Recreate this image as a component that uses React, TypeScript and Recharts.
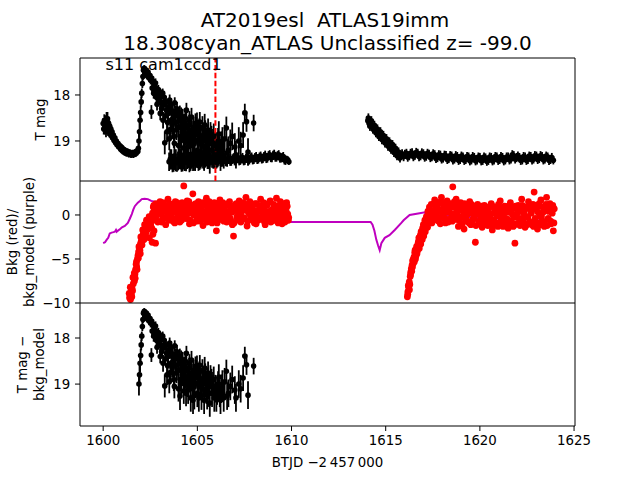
import React from 'react';
import { ComposedChart, Scatter, Line, XAxis, YAxis, ErrorBar, ReferenceLine, ReferenceArea } from 'recharts';

type Pt3 = [number, number, number];
type Pt2 = [number, number];

// ---------- Panel 1: T mag (time, mag, err) ----------
const preRise: Pt3[] = [
  [1600.00, 18.62, 0.12], [1600.03, 18.74, 0.12], [1600.06, 18.56, 0.14], [1600.09, 18.7, 0.16],
  [1600.12, 18.6, 0.16], [1600.15, 18.78, 0.14], [1600.18, 18.55, 0.18], [1600.21, 18.7, 0.16],
  [1600.23, 18.52, 0.15], [1600.26, 18.75, 0.14], [1600.29, 18.62, 0.15], [1600.32, 18.8, 0.12],
  [1600.35, 18.68, 0.12], [1600.38, 18.84, 0.1], [1600.41, 18.74, 0.1], [1600.44, 18.88, 0.1],
  [1600.47, 18.8, 0.09], [1600.50, 18.93, 0.08], [1600.54, 18.87, 0.08], [1600.58, 18.99, 0.08],
  [1600.62, 18.93, 0.07], [1600.66, 19.04, 0.07], [1600.70, 19.0, 0.07], [1600.74, 19.09, 0.07],
  [1600.78, 19.05, 0.07], [1600.83, 19.13, 0.07], [1600.88, 19.1, 0.07], [1600.93, 19.18, 0.07],
  [1600.98, 19.14, 0.07], [1601.03, 19.22, 0.07], [1601.08, 19.18, 0.07], [1601.13, 19.25, 0.07],
  [1601.18, 19.21, 0.07], [1601.24, 19.27, 0.07], [1601.30, 19.23, 0.07], [1601.36, 19.29, 0.07],
  [1601.42, 19.25, 0.07], [1601.48, 19.3, 0.07], [1601.54, 19.26, 0.07], [1601.60, 19.3, 0.07],
  [1601.66, 19.25, 0.07], [1601.72, 19.28, 0.07], [1601.78, 19.22, 0.07], [1601.84, 19.23, 0.08],
  [1601.87, 19.16, 0.1],
];

// flare points (also shown as T mag - bkg_model in the bottom panel)
const flare: Pt3[] = [
  [1601.90, 19.0, 0.25], [1601.93, 18.8, 0.22], [1601.96, 18.55, 0.2], [1601.99, 18.38, 0.15],
  [1602.02, 18.15, 0.12], [1602.05, 17.96, 0.1], [1602.08, 17.75, 0.1], [1602.11, 17.6, 0.08],
  [1602.14, 17.46, 0.07], [1602.18, 17.42, 0.07], [1602.22, 17.5, 0.07], [1602.26, 17.45, 0.07],
  [1602.30, 17.52, 0.08], [1602.34, 17.58, 0.08], [1602.38, 17.5, 0.08], [1602.42, 17.62, 0.08],
  [1602.47, 17.57, 0.08], [1602.52, 17.68, 0.09], [1602.56, 18.37, 0.15], [1602.57, 17.63, 0.09],
  [1602.63, 17.72, 0.1], [1602.68, 17.96, 0.12], [1602.72, 17.8, 0.1], [1602.78, 17.74, 0.1],
  [1602.83, 18.05, 0.12], [1602.88, 17.9, 0.1], [1602.90, 18.04, 0.12], [1603.00, 17.95, 0.1],
  [1603.05, 18.15, 0.12], [1603.10, 18.3, 0.13], [1603.16, 17.96, 0.1], [1603.20, 18.2, 0.12],
  [1603.27, 19.04, 0.25], [1603.30, 18.45, 0.15], [1603.36, 18.33, 0.14], [1603.42, 18.6, 0.2],
  [1603.48, 18.25, 0.12], [1603.53, 18.11, 0.12], [1603.58, 18.75, 0.2], [1603.63, 18.54, 0.18],
  [1603.70, 18.35, 0.15], [1603.75, 18.9, 0.25], [1603.80, 18.17, 0.12], [1603.85, 18.6, 0.2],
  [1603.89, 18.76, 0.22], [1603.95, 18.45, 0.18], [1604.00, 19.1, 0.28], [1604.07, 18.39, 0.16],
  [1604.08, 19.26, 0.3], [1604.12, 18.7, 0.22], [1604.16, 18.98, 0.25], [1604.22, 18.5, 0.2],
  [1604.28, 19.15, 0.28], [1604.33, 18.61, 0.2], [1604.38, 18.85, 0.25], [1604.42, 18.33, 0.16],
  [1604.47, 19.0, 0.28], [1604.51, 19.13, 0.3], [1604.56, 18.65, 0.22], [1604.60, 18.76, 0.22],
  [1604.65, 19.3, 0.3], [1604.69, 18.48, 0.2], [1604.73, 18.9, 0.25], [1604.77, 19.35, 0.3],
  [1604.82, 19.05, 0.28], [1604.86, 18.98, 0.25], [1604.90, 18.62, 0.22], [1604.95, 18.7, 0.22],
  [1605.00, 19.2, 0.3], [1605.05, 18.85, 0.25], [1605.13, 18.59, 0.22], [1605.18, 19.05, 0.3],
  [1605.22, 19.26, 0.3], [1605.30, 18.91, 0.25], [1605.36, 19.35, 0.3], [1605.42, 18.8, 0.25],
  [1605.48, 19.13, 0.3], [1605.57, 18.76, 0.25], [1605.62, 19.2, 0.3], [1605.66, 19.41, 0.3],
  [1605.75, 18.95, 0.28], [1605.83, 19.04, 0.3], [1605.90, 19.3, 0.3], [1606.01, 19.3, 0.3],
  [1606.10, 19.0, 0.28], [1606.19, 19.2, 0.3], [1606.28, 19.09, 0.3], [1606.40, 19.3, 0.3],
  [1606.54, 18.72, 0.25], [1606.58, 19.26, 0.3], [1606.75, 19.05, 0.3], [1606.99, 19.13, 0.3],
  [1607.20, 19.0, 0.3], [1607.43, 18.87, 0.28], [1607.52, 18.39, 0.2], [1607.61, 18.58, 0.22],
  [1607.69, 19.24, 0.3], [1607.99, 18.61, 0.18],
  [1602.60, 17.85, 0.1], [1602.66, 17.7, 0.1], [1602.74, 17.95, 0.12], [1602.80, 17.85, 0.1],
  [1602.86, 18.2, 0.14], [1602.93, 17.88, 0.1], [1602.97, 18.1, 0.12], [1603.03, 18.4, 0.15],
  [1603.08, 18.0, 0.12], [1603.13, 18.25, 0.14], [1603.18, 18.55, 0.18], [1603.24, 18.05, 0.12],
  [1603.33, 18.15, 0.13], [1603.39, 18.8, 0.22], [1603.45, 18.4, 0.16], [1603.51, 18.95, 0.25],
  [1603.56, 18.3, 0.15], [1603.61, 18.2, 0.13], [1603.66, 18.65, 0.2], [1603.72, 18.5, 0.18],
  [1603.78, 19.05, 0.26], [1603.83, 18.4, 0.16], [1603.92, 18.3, 0.15], [1603.98, 18.7, 0.22],
  [1604.03, 18.55, 0.2], [1604.10, 18.9, 0.25], [1604.14, 18.45, 0.18], [1604.19, 18.8, 0.24],
  [1604.25, 18.62, 0.2], [1604.30, 18.95, 0.26], [1604.36, 18.5, 0.2], [1604.40, 19.2, 0.28],
  [1604.45, 18.7, 0.22], [1604.53, 18.9, 0.25], [1604.58, 18.55, 0.2], [1604.63, 19.05, 0.28],
  [1604.71, 18.8, 0.24], [1604.75, 19.1, 0.28], [1604.80, 18.7, 0.22], [1604.84, 19.25, 0.3],
  [1604.92, 18.85, 0.25], [1604.98, 18.6, 0.22], [1605.03, 19.0, 0.28], [1605.08, 19.3, 0.3],
  [1605.10, 18.75, 0.24], [1605.16, 18.9, 0.26], [1605.25, 19.1, 0.28], [1605.27, 18.7, 0.24],
  [1605.33, 19.0, 0.28], [1605.39, 18.65, 0.24], [1605.45, 18.95, 0.28], [1605.52, 19.25, 0.3],
  [1605.55, 18.9, 0.26], [1605.60, 19.05, 0.28], [1605.70, 18.85, 0.26], [1605.78, 19.2, 0.3],
  [1605.87, 18.9, 0.28], [1605.95, 19.1, 0.3], [1606.05, 19.15, 0.3], [1606.14, 18.85, 0.28],
  [1606.23, 19.35, 0.3], [1606.33, 19.0, 0.3], [1606.45, 18.95, 0.3], [1606.65, 19.2, 0.3],
  [1606.85, 18.9, 0.3], [1607.05, 19.3, 0.3], [1607.30, 19.1, 0.3],
];

const baseline1: Pt3[] = [
  [1603.50, 19.45, 0.2], [1603.62, 19.40, 0.22], [1603.74, 19.47, 0.2], [1603.86, 19.42, 0.24],
  [1603.98, 19.44, 0.2], [1604.10, 19.40, 0.22], [1604.22, 19.46, 0.2], [1604.34, 19.43, 0.22],
  [1604.46, 19.41, 0.2], [1604.58, 19.46, 0.22], [1604.70, 19.42, 0.18], [1604.82, 19.44, 0.2],
  [1604.94, 19.40, 0.18], [1605.06, 19.45, 0.2], [1605.18, 19.42, 0.18], [1605.30, 19.44, 0.16],
  [1605.42, 19.40, 0.18], [1605.54, 19.45, 0.16], [1605.66, 19.41, 0.15], [1605.78, 19.44, 0.14],
  [1605.90, 19.42, 0.15], [1606.02, 19.46, 0.13], [1606.14, 19.40, 0.14], [1606.26, 19.44, 0.12],
  [1606.38, 19.39, 0.12], [1606.50, 19.44, 0.11], [1606.62, 19.40, 0.1], [1606.74, 19.44, 0.1],
  [1606.86, 19.39, 0.1], [1606.98, 19.43, 0.1], [1607.10, 19.38, 0.1], [1607.22, 19.43, 0.1],
  [1607.34, 19.39, 0.1], [1607.46, 19.43, 0.1], [1607.58, 19.38, 0.1], [1607.70, 19.42, 0.1],
  [1607.82, 19.37, 0.1], [1607.94, 19.41, 0.1], [1608.06, 19.36, 0.1], [1608.18, 19.40, 0.1],
  [1608.30, 19.35, 0.1], [1608.42, 19.39, 0.1], [1608.54, 19.34, 0.1], [1608.66, 19.38, 0.1],
  [1608.78, 19.32, 0.1], [1608.90, 19.36, 0.1], [1609.02, 19.31, 0.1], [1609.14, 19.35, 0.1],
  [1609.26, 19.32, 0.1], [1609.38, 19.37, 0.1], [1609.50, 19.36, 0.1], [1609.62, 19.41, 0.1],
  [1609.74, 19.40, 0.08], [1609.86, 19.45, 0.07],
  [1603.56, 19.40, 0.22], [1603.68, 19.48, 0.2], [1603.80, 19.41, 0.22], [1603.92, 19.47, 0.2],
  [1604.04, 19.39, 0.22], [1604.16, 19.47, 0.2], [1604.28, 19.40, 0.22], [1604.40, 19.46, 0.2],
  [1604.52, 19.39, 0.2], [1604.64, 19.45, 0.2], [1604.76, 19.39, 0.18], [1604.88, 19.47, 0.18],
  [1605.00, 19.41, 0.18], [1605.12, 19.47, 0.16], [1605.24, 19.39, 0.16], [1605.36, 19.46, 0.16],
  [1605.48, 19.40, 0.15], [1605.60, 19.46, 0.15], [1605.72, 19.39, 0.14], [1605.84, 19.46, 0.14],
  [1605.96, 19.40, 0.13], [1606.08, 19.45, 0.12], [1606.20, 19.38, 0.12], [1606.32, 19.45, 0.11],
  [1606.44, 19.38, 0.11], [1606.56, 19.44, 0.1], [1606.68, 19.37, 0.1], [1606.80, 19.44, 0.1],
  [1606.92, 19.37, 0.1], [1607.04, 19.43, 0.1], [1607.16, 19.36, 0.1], [1607.28, 19.42, 0.1],
  [1607.40, 19.36, 0.1], [1607.52, 19.42, 0.1], [1607.64, 19.35, 0.1], [1607.76, 19.41, 0.1],
  [1607.88, 19.35, 0.1], [1608.00, 19.40, 0.1], [1608.12, 19.34, 0.1], [1608.24, 19.39, 0.1],
  [1608.36, 19.33, 0.1], [1608.48, 19.38, 0.1], [1608.60, 19.31, 0.1], [1608.72, 19.37, 0.1],
  [1608.84, 19.30, 0.1], [1608.96, 19.36, 0.1], [1609.08, 19.29, 0.1], [1609.20, 19.35, 0.1],
  [1609.32, 19.30, 0.1], [1609.44, 19.37, 0.1], [1609.56, 19.34, 0.1], [1609.68, 19.42, 0.1],
  [1609.80, 19.41, 0.08],
];

const baseline2: Pt3[] = [
  [1614.05, 18.56, 0.1], [1614.12, 18.62, 0.1], [1614.20, 18.6, 0.1], [1614.28, 18.68, 0.1],
  [1614.36, 18.7, 0.1], [1614.44, 18.76, 0.1], [1614.52, 18.78, 0.1], [1614.60, 18.84, 0.1],
  [1614.68, 18.85, 0.1], [1614.76, 18.9, 0.1], [1614.84, 18.92, 0.1], [1614.92, 18.98, 0.1],
  [1615.00, 19.0, 0.1], [1615.08, 19.05, 0.1], [1615.16, 19.06, 0.1], [1615.24, 19.12, 0.1],
  [1615.32, 19.14, 0.1], [1615.40, 19.19, 0.1], [1615.48, 19.21, 0.1], [1615.56, 19.26, 0.1],
  [1615.64, 19.29, 0.1], [1615.72, 19.33, 0.1], [1615.80, 19.31, 0.1], [1615.95, 19.34, 0.1],
  [1616.10, 19.27, 0.1], [1616.25, 19.32, 0.1], [1616.40, 19.26, 0.1], [1616.55, 19.31, 0.1],
  [1616.70, 19.27, 0.1], [1616.85, 19.32, 0.1], [1617.00, 19.28, 0.1], [1617.15, 19.33, 0.1],
  [1617.30, 19.29, 0.1], [1617.45, 19.34, 0.1], [1617.60, 19.30, 0.1], [1617.75, 19.36, 0.1],
  [1617.90, 19.31, 0.1], [1618.05, 19.37, 0.1], [1618.20, 19.32, 0.1], [1618.35, 19.38, 0.1],
  [1618.50, 19.33, 0.1], [1618.65, 19.39, 0.1], [1618.80, 19.34, 0.1], [1618.95, 19.40, 0.1],
  [1619.10, 19.35, 0.1], [1619.25, 19.40, 0.1], [1619.40, 19.35, 0.1], [1619.55, 19.41, 0.1],
  [1619.70, 19.36, 0.1], [1619.85, 19.41, 0.1], [1620.00, 19.36, 0.1], [1620.15, 19.42, 0.1],
  [1620.30, 19.37, 0.1], [1620.45, 19.42, 0.1], [1620.60, 19.36, 0.1], [1620.75, 19.41, 0.1],
  [1620.90, 19.35, 0.1], [1621.05, 19.40, 0.1], [1621.20, 19.36, 0.1], [1621.35, 19.41, 0.1],
  [1621.50, 19.35, 0.1], [1621.65, 19.39, 0.1], [1621.80, 19.32, 0.1], [1621.95, 19.36, 0.1],
  [1622.10, 19.36, 0.1], [1622.25, 19.41, 0.1], [1622.40, 19.35, 0.1], [1622.55, 19.40, 0.1],
  [1622.70, 19.34, 0.1], [1622.85, 19.39, 0.1], [1623.00, 19.33, 0.1], [1623.15, 19.38, 0.1],
  [1623.30, 19.34, 0.1], [1623.45, 19.39, 0.1], [1623.60, 19.35, 0.1], [1623.75, 19.40, 0.1],
  [1623.90, 19.42, 0.09],
  [1614.08, 18.5, 0.1], [1614.16, 18.68, 0.1], [1614.24, 18.56, 0.1], [1614.32, 18.74, 0.1],
  [1614.40, 18.66, 0.1], [1614.48, 18.82, 0.1], [1614.56, 18.74, 0.1], [1614.64, 18.9, 0.1],
  [1614.72, 18.8, 0.1], [1614.80, 18.97, 0.1], [1614.88, 18.88, 0.1], [1614.96, 19.04, 0.1],
  [1615.04, 18.95, 0.1], [1615.12, 19.11, 0.1], [1615.20, 19.02, 0.1], [1615.28, 19.18, 0.1],
  [1615.36, 19.08, 0.1], [1615.44, 19.25, 0.1], [1615.52, 19.16, 0.1], [1615.60, 19.32, 0.1],
  [1615.68, 19.24, 0.1], [1615.76, 19.37, 0.1], [1615.87, 19.28, 0.1], [1616.02, 19.29, 0.1],
  [1616.17, 19.35, 0.1], [1616.32, 19.27, 0.1], [1616.47, 19.34, 0.1], [1616.62, 19.25, 0.1],
  [1616.77, 19.34, 0.1], [1616.92, 19.26, 0.1], [1617.07, 19.35, 0.1], [1617.22, 19.27, 0.1],
  [1617.37, 19.36, 0.1], [1617.52, 19.28, 0.1], [1617.67, 19.38, 0.1], [1617.82, 19.30, 0.1],
  [1617.97, 19.39, 0.1], [1618.12, 19.31, 0.1], [1618.27, 19.40, 0.1], [1618.42, 19.32, 0.1],
  [1618.57, 19.41, 0.1], [1618.72, 19.32, 0.1], [1618.87, 19.42, 0.1], [1619.02, 19.33, 0.1],
  [1619.17, 19.42, 0.1], [1619.32, 19.34, 0.1], [1619.47, 19.43, 0.1], [1619.62, 19.34, 0.1],
  [1619.77, 19.43, 0.1], [1619.92, 19.35, 0.1], [1620.07, 19.43, 0.1], [1620.22, 19.35, 0.1],
  [1620.37, 19.44, 0.1], [1620.52, 19.35, 0.1], [1620.67, 19.43, 0.1], [1620.82, 19.34, 0.1],
  [1620.97, 19.42, 0.1], [1621.12, 19.34, 0.1], [1621.27, 19.43, 0.1], [1621.42, 19.35, 0.1],
  [1621.57, 19.41, 0.1], [1621.72, 19.30, 0.1], [1621.87, 19.39, 0.1], [1622.02, 19.33, 0.1],
  [1622.17, 19.42, 0.1], [1622.32, 19.34, 0.1], [1622.47, 19.42, 0.1], [1622.62, 19.33, 0.1],
  [1622.77, 19.41, 0.1], [1622.92, 19.32, 0.1], [1623.07, 19.40, 0.1], [1623.22, 19.32, 0.1],
  [1623.37, 19.41, 0.1], [1623.52, 19.33, 0.1], [1623.67, 19.42, 0.1], [1623.82, 19.36, 0.1],
];

// ---------- Panel 2: background (red) and background model (purple) ----------
const bkgOrbit1: Pt2[] = [
  [1601.40, -9.4], [1601.42, -9.0], [1601.45, -9.6], [1601.48, -8.7], [1601.50, -9.1], [1601.53, -8.3],
  [1601.56, -8.6], [1601.60, -7.8], [1601.63, -7.2], [1601.66, -7.5], [1601.69, -6.7], [1601.72, -6.2],
  [1601.75, -5.6], [1601.78, -5.9], [1601.82, -5.0], [1601.85, -4.6], [1601.88, -4.2], [1601.92, -3.8],
  [1601.95, -4.0], [1601.98, -3.3], [1602.02, -3.0], [1602.05, -2.6], [1602.08, -2.9], [1602.12, -2.2],
  [1602.15, -1.8], [1602.18, -2.4], [1602.22, -1.5], [1602.25, -1.2], [1602.28, -2.0], [1602.32, -1.0],
  [1602.35, -0.7], [1602.38, -1.6], [1602.42, -0.5], [1602.45, -2.6], [1602.48, -0.3], [1602.52, -1.1],
  [1602.55, -0.2], [1602.60, -3.1], [1602.62, 0.2], [1602.65, -0.6], [1602.70, -1.8], [1602.72, 0.5],
  [1602.78, -3.2],
  [1601.38, -8.9], [1601.44, -8.2], [1601.52, -9.3], [1601.58, -7.1], [1601.65, -6.6], [1601.70, -7.2],
  [1601.77, -5.3], [1601.80, -6.2], [1601.87, -4.9], [1601.90, -3.6], [1601.97, -4.4], [1602.00, -2.5],
  [1602.06, -3.4], [1602.10, -1.7], [1602.17, -2.8], [1602.20, -1.1], [1602.27, -1.6], [1602.30, -0.6],
  [1602.40, -1.3], [1602.44, -0.2], [1602.50, -0.8], [1602.58, -1.5], [1602.64, -2.2], [1602.68, -0.3],
  [1602.66, 0.9], [1602.75, -0.4], [1602.80, 1.3], [1602.84, 0.2], [1602.90, -0.8], [1602.96, 0.7],
  [1603.02, 1.5], [1603.08, 0.1], [1603.14, -0.5], [1603.20, 1.0], [1603.26, 0.4], [1603.32, -1.1],
  [1603.38, 0.8], [1603.44, 1.8], [1603.50, 0.0], [1603.56, 0.6], [1603.62, -0.3], [1603.68, 1.2],
  [1603.74, 0.3], [1603.80, -0.9], [1603.86, 0.9], [1603.92, 1.4], [1603.98, -0.2], [1604.04, 0.5],
  [1604.10, 1.1], [1604.16, -0.6], [1604.22, 0.2], [1604.28, 3.3], [1604.34, 0.7], [1604.40, -0.4],
  [1604.46, 1.6], [1604.52, 0.3], [1604.58, -1.0], [1604.64, 1.0], [1604.70, 0.8], [1604.76, 2.4],
  [1604.82, 0.0], [1604.88, 1.2], [1604.94, -0.7], [1605.00, 0.6], [1605.06, 1.5], [1605.12, -0.2],
  [1605.18, 0.9], [1605.24, 0.2], [1605.30, -1.2], [1605.36, 1.3], [1605.42, 0.4], [1605.48, 1.9],
  [1605.54, -0.5], [1605.60, 0.7], [1605.66, 0.1], [1605.72, 1.1], [1605.78, -0.9], [1605.84, 0.5],
  [1605.90, 1.4], [1605.96, -0.1], [1606.01, -1.8], [1606.02, 0.8], [1606.08, -0.6], [1606.14, 0.3],
  [1606.20, 1.7], [1606.26, -0.2], [1606.32, 0.6], [1606.38, -0.3], [1606.44, 1.0], [1606.50, 0.2],
  [1606.56, -0.8], [1606.62, 1.3], [1606.68, 0.4], [1606.74, -0.4], [1606.80, 0.9], [1606.86, -1.1],
  [1606.92, -2.4], [1606.98, 0.5], [1607.04, 1.2], [1607.10, -0.2], [1607.16, 0.7], [1607.22, 1.6],
  [1607.28, -0.7], [1607.34, 0.3], [1607.40, 1.0], [1607.46, -0.3], [1607.52, 0.6], [1607.58, 2.0],
  [1607.64, -1.25], [1607.70, 0.4], [1607.76, 1.1], [1607.82, -0.1], [1607.88, 0.8], [1607.94, -0.6],
  [1608.00, 0.2], [1608.06, 1.3], [1608.12, -1.0], [1608.18, 0.5], [1608.24, -0.3], [1608.30, 0.9],
  [1608.36, 1.8], [1608.42, -0.5], [1608.48, 0.1], [1608.54, 0.7], [1608.60, -1.1], [1608.66, 1.2],
  [1608.72, 0.3], [1608.78, -0.2], [1608.84, 1.5], [1608.90, -0.8], [1608.96, 0.6], [1609.02, -0.4],
  [1609.08, 1.0], [1609.14, 0.0], [1609.20, 1.9], [1609.26, -0.7], [1609.32, 0.4], [1609.38, -0.2],
  [1609.44, 1.2], [1609.50, -1.0], [1609.56, 0.3], [1609.62, 0.9], [1609.68, -0.5], [1609.74, 1.4],
  [1609.80, 0.1], [1609.85, -0.3],
  [1602.86, 0.6], [1603.05, 0.3], [1603.23, 0.7], [1603.41, 0.2], [1603.59, 0.9], [1603.77, 0.5],
  [1603.95, 0.1], [1604.13, 0.8], [1604.31, 0.4], [1604.49, 0.9], [1604.67, 0.2], [1604.85, 0.6],
  [1605.03, 0.1], [1605.21, 0.7], [1605.39, -0.1], [1605.57, 0.4], [1605.75, 0.8], [1605.93, 0.2],
  [1606.11, 0.6], [1606.29, 0.1], [1606.47, 0.5], [1606.65, -0.2], [1606.83, 0.3], [1607.01, 0.7],
  [1607.19, 0.0], [1607.37, 0.5], [1607.55, 0.9], [1607.73, 0.2], [1607.91, 0.5], [1608.09, 0.0],
  [1608.27, 0.4], [1608.45, 0.8], [1608.63, 0.0], [1608.81, 0.4], [1608.99, -0.1], [1609.17, 0.5],
  [1609.35, 0.8], [1609.53, 0.0], [1609.71, 0.5],
  [1602.69, 1.1], [1602.81, -0.2], [1602.93, 1.2], [1603.11, -0.8], [1603.17, 1.4], [1603.29, -0.3],
  [1603.35, 1.1], [1603.47, -0.6], [1603.53, 1.3], [1603.65, 0.5], [1603.71, -0.7], [1603.83, 1.5],
  [1603.89, -0.4], [1604.01, 1.2], [1604.07, -0.8], [1604.19, 1.4], [1604.25, -0.3], [1604.37, 1.2],
  [1604.43, 0.0], [1604.55, 1.5], [1604.61, -0.6], [1604.73, 1.1], [1604.79, -0.9], [1604.91, 1.3],
  [1604.97, -0.2], [1605.09, 1.0], [1605.15, -0.7], [1605.27, 1.4], [1605.33, -0.5], [1605.45, 1.1],
  [1605.51, -0.8], [1605.63, 1.5], [1605.69, -0.4], [1605.81, 1.2], [1605.87, -0.6], [1605.99, 1.3],
  [1606.05, -0.9], [1606.17, 1.0], [1606.23, -0.5], [1606.35, 1.4], [1606.41, -0.7], [1606.53, 1.1],
  [1606.59, -0.3], [1606.71, 1.5], [1606.77, -0.6], [1606.89, 1.0], [1606.95, -0.9], [1607.07, 1.3],
  [1607.13, -0.5], [1607.25, 1.0], [1607.31, -0.8], [1607.43, 1.4], [1607.49, -0.4], [1607.61, 1.2],
  [1607.67, -0.7], [1607.79, 1.5], [1607.85, -0.3], [1607.97, 1.1], [1608.03, -0.9], [1608.15, 1.3],
  [1608.21, -0.6], [1608.33, 1.0], [1608.39, -0.4], [1608.51, 1.4], [1608.57, -0.8], [1608.69, 1.1],
  [1608.75, -0.5], [1608.87, 1.6], [1608.93, -0.7], [1609.05, 1.2], [1609.11, -0.6], [1609.23, 1.0],
  [1609.29, -0.9], [1609.41, 1.5], [1609.47, -0.4], [1609.59, 1.3], [1609.65, -0.8], [1609.77, 1.0],
  [1609.83, -0.6],
];

const bkgOrbit2: Pt2[] = [
  [1616.15, -9.3], [1616.18, -8.7], [1616.22, -8.2], [1616.25, -7.6], [1616.28, -7.9], [1616.30, -7.0],
  [1616.33, -6.5], [1616.36, -6.1], [1616.40, -5.7], [1616.43, -5.2], [1616.46, -5.5], [1616.50, -4.8],
  [1616.54, -4.3], [1616.58, -5.0], [1616.62, -3.9], [1616.66, -4.4], [1616.70, -3.5], [1616.74, -3.0],
  [1616.78, -3.8], [1616.82, -2.7], [1616.86, -3.3], [1616.90, -2.2], [1616.94, -2.8], [1616.98, -1.8],
  [1617.02, -2.4], [1617.06, -1.3], [1617.10, -1.9], [1617.14, -0.9], [1617.18, -0.5], [1617.22, -1.4],
  [1617.26, 0.1], [1617.30, -0.7], [1617.34, 0.6], [1617.38, -0.2],
  [1616.17, -9.0], [1616.20, -8.0], [1616.26, -8.5], [1616.32, -6.8], [1616.38, -6.4], [1616.42, -5.9],
  [1616.48, -5.0], [1616.52, -5.3], [1616.56, -4.0], [1616.60, -4.7], [1616.64, -3.6], [1616.68, -4.1],
  [1616.72, -3.2], [1616.76, -2.6], [1616.80, -3.4], [1616.84, -2.3], [1616.88, -1.9], [1616.92, -2.6],
  [1616.96, -1.5], [1617.00, -1.1], [1617.04, -2.0], [1617.08, -0.6], [1617.12, -1.5], [1617.16, -0.2],
  [1617.20, -1.0], [1617.24, 0.4], [1617.28, -0.4], [1617.32, 0.9], [1617.36, -0.9], [1617.40, 0.3],
  [1617.42, 1.2], [1617.48, 0.3], [1617.54, -0.6], [1617.60, 1.7], [1617.66, 0.8], [1617.72, -0.2],
  [1617.78, 1.4], [1617.84, 0.5], [1617.90, -1.0], [1617.96, 2.0], [1618.02, 0.2], [1618.08, 1.1],
  [1618.14, -0.4], [1618.20, 0.7], [1618.26, 1.6], [1618.32, -0.8], [1618.38, 0.4], [1618.44, 1.3],
  [1618.50, -0.1], [1618.56, 3.2], [1618.62, 0.9], [1618.68, -0.5], [1618.74, 1.8], [1618.80, 0.1],
  [1618.86, -1.3], [1618.92, 0.6], [1618.98, 1.4], [1619.04, -0.3], [1619.10, 0.8], [1619.16, -1.6],
  [1619.22, 0.3], [1619.28, 1.0], [1619.34, -0.7], [1619.40, 0.5], [1619.46, 1.5], [1619.52, -1.1],
  [1619.58, 0.2], [1619.64, 0.9], [1619.70, -0.4], [1619.76, -3.1], [1619.82, 0.6], [1619.88, 1.2],
  [1619.94, -0.9], [1620.00, 0.0], [1620.06, 0.7], [1620.12, -1.4], [1620.18, -0.2], [1620.24, 1.1],
  [1620.30, -0.6], [1620.36, 0.4], [1620.42, -1.2], [1620.48, 0.8], [1620.54, -0.3], [1620.60, 1.3],
  [1620.66, -1.7], [1620.72, 0.2], [1620.78, -0.8], [1620.84, 0.9], [1620.90, -0.1], [1620.96, -1.3],
  [1621.02, 0.5], [1621.08, 1.6], [1621.14, -0.6], [1621.20, 0.1], [1621.26, -1.0], [1621.32, 1.0],
  [1621.38, -0.4], [1621.44, 0.6], [1621.50, -1.5], [1621.56, 0.3], [1621.62, 1.4], [1621.68, -0.7],
  [1621.74, 0.0], [1621.80, -1.2], [1621.86, -3.2], [1621.92, 0.7], [1621.98, -0.3], [1622.04, 1.1],
  [1622.10, -0.9], [1622.16, 0.4], [1622.22, 1.8], [1622.28, -0.5], [1622.34, 0.2], [1622.40, -1.4],
  [1622.46, 0.9], [1622.52, -0.2], [1622.58, 1.5], [1622.64, -0.8], [1622.70, 0.5], [1622.76, -1.1],
  [1622.82, 1.2], [1622.88, 2.6], [1622.94, -0.4], [1623.00, 0.6], [1623.06, -1.6], [1623.12, 1.0],
  [1623.18, -0.1], [1623.24, 1.7], [1623.30, -0.7], [1623.36, 0.3], [1623.42, -1.3], [1623.48, 0.8],
  [1623.54, 2.0], [1623.60, -0.5], [1623.66, 0.4], [1623.72, 1.3], [1623.78, -1.0], [1623.84, 0.2],
  [1623.90, -1.8], [1623.95, 0.7],
  [1617.51, 0.4], [1617.69, 0.0], [1617.87, 0.6], [1618.05, -0.3], [1618.23, 0.3], [1618.41, 0.8],
  [1618.59, 0.1], [1618.77, 0.5], [1618.95, -0.2], [1619.13, 0.4], [1619.31, 0.0], [1619.49, 0.6],
  [1619.67, -0.3], [1619.85, 0.2], [1620.03, -0.5], [1620.21, 0.3], [1620.39, -0.2], [1620.57, 0.1],
  [1620.75, -0.6], [1620.93, 0.3], [1621.11, -0.3], [1621.29, 0.2], [1621.47, -0.5], [1621.65, 0.4],
  [1621.83, -0.2], [1622.01, 0.3], [1622.19, -0.4], [1622.37, 0.5], [1622.55, -0.3], [1622.73, 0.2],
  [1622.91, -0.6], [1623.09, 0.3], [1623.27, -0.2], [1623.45, 0.5], [1623.63, -0.4], [1623.81, 0.3],
  [1617.45, -0.9], [1617.57, 1.3], [1617.63, -0.4], [1617.75, 1.1], [1617.81, -0.7], [1617.93, 1.5],
  [1617.99, -0.2], [1618.11, 1.0], [1618.17, -0.9], [1618.29, 1.3], [1618.35, -0.5], [1618.47, 1.1],
  [1618.53, -0.7], [1618.65, 1.5], [1618.71, -0.3], [1618.83, 1.2], [1618.89, -0.6], [1619.01, 1.0],
  [1619.07, -1.0], [1619.19, 1.3], [1619.25, -0.5], [1619.37, 1.1], [1619.43, -0.9], [1619.55, 1.2],
  [1619.61, -0.6], [1619.73, 1.0], [1619.79, -1.2], [1619.91, 0.9], [1619.97, -0.8], [1620.09, 1.0],
  [1620.15, -1.0], [1620.27, 0.8], [1620.33, -1.1], [1620.45, 0.9], [1620.51, -0.8], [1620.63, 1.1],
  [1620.69, -1.2], [1620.81, 0.7], [1620.87, -1.0], [1620.99, 1.2], [1621.05, -0.9], [1621.17, 0.8],
  [1621.23, -1.3], [1621.35, 0.9], [1621.41, -1.1], [1621.53, 1.0], [1621.59, -0.9], [1621.71, 0.8],
  [1621.77, -1.3], [1621.89, 1.0], [1621.95, -1.0], [1622.07, 0.9], [1622.13, -1.2], [1622.25, 1.1],
  [1622.31, -0.9], [1622.43, 0.8], [1622.49, -1.1], [1622.61, 1.2], [1622.67, -1.0], [1622.79, 0.9],
  [1622.85, -1.3], [1622.97, 1.1], [1623.03, -0.9], [1623.15, 1.3], [1623.21, -1.1], [1623.33, 0.9],
  [1623.39, -0.8], [1623.51, 1.2], [1623.57, -1.2], [1623.69, 1.0], [1623.75, -0.7], [1623.87, 1.1],
  [1623.93, -0.9],
];

const bkgModel: Pt2[] = [
  [1600.00, -3.2], [1600.10, -3.1], [1600.19, -2.8], [1600.27, -2.6], [1600.35, -2.1], [1600.45, -2.0],
  [1600.55, -1.95], [1600.62, -1.9], [1600.68, -1.7], [1600.72, -1.9], [1600.77, -1.8], [1600.90, -1.6],
  [1601.00, -1.4], [1601.15, -1.25], [1601.31, -0.9], [1601.42, -0.4], [1601.52, 0.1], [1601.60, 0.6],
  [1601.68, 1.0], [1601.84, 1.4], [1601.95, 1.6], [1602.05, 1.8], [1602.20, 1.85], [1602.37, 1.8],
  [1602.55, 1.6], [1602.74, 1.5], [1602.95, 1.45], [1603.11, 1.4], [1603.25, 1.2], [1603.38, 1.0],
  [1603.69, 0.9], [1603.95, 0.95], [1604.17, 1.0], [1604.45, 0.9], [1604.70, 0.8], [1605.05, 0.6],
  [1605.39, 0.45], [1605.75, 0.3], [1606.08, 0.25], [1606.50, 0.2], [1606.99, 0.25], [1607.35, 0.35],
  [1607.68, 0.45], [1607.95, 0.3], [1608.21, 0.1], [1608.60, -0.05], [1608.96, -0.2], [1609.25, -0.45],
  [1609.48, -0.7], [1609.75, -0.8], [1609.86, -0.8],
  [1614.20, -0.8], [1614.30, -1.1], [1614.40, -1.8], [1614.50, -2.8], [1614.60, -3.5], [1614.68, -4.0],
  [1614.77, -3.2], [1614.95, -2.6], [1615.20, -2.3], [1615.48, -1.7], [1615.83, -0.9], [1615.95, -0.6],
  [1616.27, 0.0], [1616.80, 0.2], [1617.07, 0.3], [1617.23, -0.15], [1617.87, -0.2], [1618.49, 0.0],
  [1619.28, -0.2], [1619.99, -0.4], [1620.68, -0.55], [1621.40, -0.8], [1622.47, -0.8], [1623.17, -0.6],
  [1623.95, -0.6],
];

// ---------- axes ----------
const xTicks = [1600, 1605, 1610, 1615, 1620, 1625];
const magTicks = [18, 19];
const bkgTicks = [-10, -5, 0];
const peakTime = 1605.96;

const X_DOMAIN: [number, number] = [1598.77, 1625.05];
const MAG_DOMAIN_TOP: [number, number] = [17.196, 19.87];
const BKG_DOMAIN: [number, number] = [-10.0, 3.86];
const MAG_DOMAIN_BOT: [number, number] = [17.24, 19.91];

const toMag = (a: Pt3[]) => a.map(([t, m, e]) => ({ t, m, e }));
const toVal = (a: Pt2[]) => a.map(([t, v]) => ({ t, v }));

const FONT = 'DejaVu Sans';
const tickStyle = { fontSize: 13.33, fill: '#000', fontFamily: FONT };
const minus = (v: number) => String(v).replace('-', '\u2212');

const blackDot = (p: any) => <circle cx={p.cx} cy={p.cy} r={2.8} fill="#000" />;
const redDot = (p: any) => <circle cx={p.cx} cy={p.cy} r={3.4} fill="#ff0000" />;

const W = 640;
const H = 480;
const abs: React.CSSProperties = { position: 'absolute', left: 0, top: 0 };

function axes(yDomain: [number, number], reversed: boolean, yKey: string, yTicks: number[], showX: boolean) {
  return [
    <XAxis
      key="xb"
      xAxisId="b"
      type="number"
      dataKey="t"
      domain={X_DOMAIN}
      allowDataOverflow
      ticks={xTicks}
      interval={0}
      hide={!showX}
      height={54}
      tick={tickStyle}
      tickLine={{ stroke: '#000' }}
      tickSize={5}
      tickMargin={4.5}
      axisLine={false}
    />,
    <YAxis
      key="yl"
      yAxisId="l"
      type="number"
      dataKey={yKey}
      domain={yDomain}
      reversed={reversed}
      allowDataOverflow
      ticks={yTicks}
      interval={0}
      width={80}
      tick={tickStyle}
      tickFormatter={minus}
      tickLine={{ stroke: '#000' }}
      tickSize={5}
      tickMargin={4.7}
      axisLine={false}
    />,
  ];
}

function frame(yDomain: [number, number]) {
  return (
    <ReferenceArea
      xAxisId="b"
      yAxisId="l"
      x1={X_DOMAIN[0]}
      x2={X_DOMAIN[1]}
      y1={yDomain[0]}
      y2={yDomain[1]}
      fill="none"
      fillOpacity={0}
      stroke="#000"
      strokeWidth={1}
      ifOverflow="visible"
    />
  );
}

function sideEdges() {
  return X_DOMAIN.map((x) => (
    <ReferenceLine key={x} x={x} xAxisId="b" yAxisId="l" stroke="#000" strokeWidth={1} ifOverflow="visible" />
  ));
}

export default function App() {
  const p1Pre = toMag(preRise);
  const p1Flare = toMag(flare);
  const p1B1 = toMag(baseline1);
  const p1B2 = toMag(baseline2);
  const red1 = toVal(bkgOrbit1);
  const red2 = toVal(bkgOrbit2);
  const model = toVal(bkgModel);
  const diff = toMag(flare);

  const eb = <ErrorBar dataKey="e" direction="y" width={0} stroke="#000" strokeWidth={1.8} />;

  return (
    <div style={{ position: 'absolute', left: 0, top: 0, width: W, height: H, background: '#fff' }}>
      {/* Panel 1 */}
      <div style={abs}>
        <ComposedChart width={W} height={H} margin={{ top: 58, right: 65, bottom: 299, left: 0 }}>
          {axes(MAG_DOMAIN_TOP, true, 'm', magTicks, false)}
          {[p1Pre, p1Flare, p1B1, p1B2].map((d, i) => (
            <Scatter key={i} data={d} dataKey="m" xAxisId="b" yAxisId="l" isAnimationActive={false} shape={blackDot}>
              {eb}
            </Scatter>
          ))}
          <ReferenceLine
            x={peakTime}
            xAxisId="b"
            yAxisId="l"
            stroke="#ff0000"
            strokeWidth={2}
            strokeDasharray="5.5 2.4"
          />
          {frame(MAG_DOMAIN_TOP)}
        </ComposedChart>
      </div>
      {/* Panel 2 */}
      <div style={abs}>
        <ComposedChart width={W} height={H} margin={{ top: 181, right: 65, bottom: 177, left: 0 }}>
          {axes(BKG_DOMAIN, false, 'v', bkgTicks, false)}
          <Scatter data={red1} dataKey="v" xAxisId="b" yAxisId="l" isAnimationActive={false} shape={redDot} />
          <Scatter data={red2} dataKey="v" xAxisId="b" yAxisId="l" isAnimationActive={false} shape={redDot} />
          <Line
            data={model}
            dataKey="v"
            xAxisId="b"
            yAxisId="l"
            type="linear"
            stroke="#bf00bf"
            strokeWidth={2}
            dot={false}
            activeDot={false}
            isAnimationActive={false}
          />
          {sideEdges()}
        </ComposedChart>
      </div>
      {/* Panel 3 */}
      <div style={abs}>
        <ComposedChart width={W} height={H} margin={{ top: 303, right: 65, bottom: 0, left: 0 }}>
          {axes(MAG_DOMAIN_BOT, true, 'm', magTicks, true)}
          <Scatter data={diff} dataKey="m" xAxisId="b" yAxisId="l" isAnimationActive={false} shape={blackDot}>
            {eb}
          </Scatter>
          {frame(MAG_DOMAIN_BOT)}
        </ComposedChart>
      </div>
      {/* Text */}
      <svg width={W} height={H} style={{ ...abs, pointerEvents: 'none' }} fontFamily={FONT}>
        <text x={325} y={27} fontSize={20} textAnchor="middle" xmlSpace="preserve" style={{ whiteSpace: 'pre' }}>
          AT2019esl  ATLAS19imm
        </text>
        <text x={327.5} y={50} fontSize={20} textAnchor="middle">
          18.308cyan_ATLAS Unclassified z= -99.0
        </text>
        <text x={105.5} y={69.5} fontSize={16}>
          s11 cam1ccd1
        </text>
        <text transform="translate(45,119.5) rotate(-90)" fontSize={13.33} textAnchor="middle">
          T mag
        </text>
        <text transform="translate(17,242) rotate(-90)" fontSize={13.33} textAnchor="middle">
          Bkg (red)/
        </text>
        <text transform="translate(33.5,242) rotate(-90)" fontSize={13.33} textAnchor="middle">
          bkg_model (purple)
        </text>
        <text transform="translate(27,364.5) rotate(-90)" fontSize={13.33} textAnchor="middle">
          T mag −
        </text>
        <text transform="translate(43.5,364.5) rotate(-90)" fontSize={13.33} textAnchor="middle">
          bkg_model
        </text>
        <text x={327.5} y={467} fontSize={13.33} textAnchor="middle">
          {'BTJD \u22122\u2009457\u2009000'}
        </text>
      </svg>
    </div>
  );
}
